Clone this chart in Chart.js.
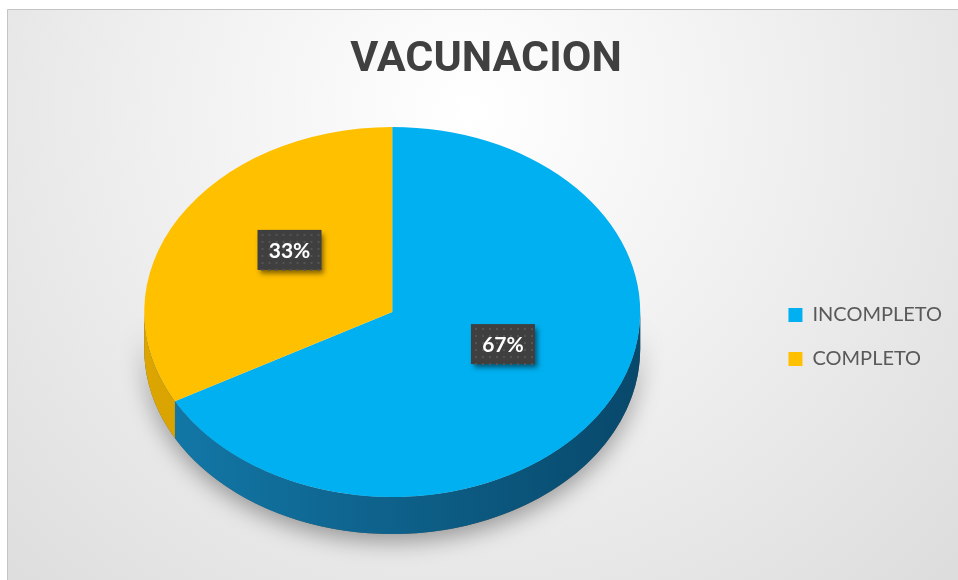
<!DOCTYPE html>
<html>
<head>
<meta charset="utf-8">
<script src="https://cdn.jsdelivr.net/npm/chart.js@4.4.1/dist/chart.umd.min.js"></script>
<style>
  html, body { margin: 0; padding: 0; background: #fff; }
  #wrap { width: 958px; height: 580px; }
</style>
</head>
<body>
<div id="wrap"><canvas id="canvas"></canvas></div>
<script>
// data
var chartTitle = 'VACUNACION';
var categories = ['INCOMPLETO', 'COMPLETO'];
var shares = [67, 33];

// styling
var topColors = ['#00b0f0', '#ffc000'];
var sideColors = [['#137aaa', '#08486b'], ['#dca500', '#b88a00']];
var TILT = 0.746;   // vertical squash of the 3d pie
var LIFT = 20;      // pie centre moved up from the chart area centre
var DEPTH = 37;     // thickness of the pie side

function pieGeom(chart) {
    var arcs = chart.getDatasetMeta(0).data;
    var a = arcs[0];
    return { cx: a.x, cy: a.y - LIFT, rx: a.outerRadius, ry: a.outerRadius * TILT, ox: a.x, oy: a.y, arcs: arcs };
}

var backdrop = {
    id: 'backdrop',
    beforeDraw: function (chart) {
        var ctx = chart.ctx, w = chart.width, h = chart.height;
        ctx.save();
        ctx.fillStyle = '#ffffff';
        ctx.fillRect(0, 0, w, h);
        var g = ctx.createRadialGradient(470, 110, 0, 470, 110, 720);
        g.addColorStop(0, '#ffffff');
        g.addColorStop(0.45, '#efefef');
        g.addColorStop(1, '#dadada');
        ctx.fillStyle = g;
        ctx.fillRect(7, 9, w - 7, h - 9);
        ctx.strokeStyle = '#c4c4c4';
        ctx.lineWidth = 1;
        ctx.beginPath();
        ctx.moveTo(7.5, h);
        ctx.lineTo(7.5, 9.5);
        ctx.lineTo(w, 9.5);
        ctx.stroke();
        ctx.restore();
    }
};

var pie3d = {
    id: 'pie3d',
    beforeDatasetsDraw: function (chart) {
        var ctx = chart.ctx, p = pieGeom(chart);
        // soft shadow under the pie
        ctx.save();
        ctx.shadowColor = 'rgba(0,0,0,0.35)';
        ctx.shadowBlur = 22;
        ctx.shadowOffsetY = 8;
        ctx.fillStyle = '#555';
        ctx.beginPath();
        ctx.ellipse(p.cx, p.cy + DEPTH, p.rx, p.ry, 0, 0, Math.PI);
        ctx.ellipse(p.cx, p.cy, p.rx, p.ry, 0, Math.PI, 0, true);
        ctx.closePath();
        ctx.fill();
        ctx.restore();
        // side walls of each slice (front half only)
        p.arcs.forEach(function (arc, i) {
            var a = Math.max(arc.startAngle, 0), b = Math.min(arc.endAngle, Math.PI);
            var a2 = Math.max(arc.startAngle - 2 * Math.PI, 0), b2 = Math.min(arc.endAngle - 2 * Math.PI, Math.PI);
            [[a, b], [a2, b2]].forEach(function (r) {
                if (r[1] <= r[0]) return;
                var g = ctx.createLinearGradient(p.cx - p.rx, 0, p.cx + p.rx, 0);
                g.addColorStop(0, sideColors[i][0]);
                g.addColorStop(1, sideColors[i][1]);
                ctx.save();
                ctx.fillStyle = g;
                ctx.beginPath();
                ctx.ellipse(p.cx, p.cy, p.rx, p.ry, 0, r[0], r[1]);
                ctx.ellipse(p.cx, p.cy + DEPTH, p.rx, p.ry, 0, r[1], r[0], true);
                ctx.closePath();
                ctx.fill();
                ctx.restore();
            });
        });
        // squash the library's circle into the top face ellipse
        ctx.save();
        ctx.translate(p.cx, p.cy);
        ctx.scale(1, TILT);
        ctx.translate(-p.ox, -p.oy);
    },
    afterDatasetsDraw: function (chart) {
        var ctx = chart.ctx;
        ctx.restore();
        var p = pieGeom(chart);
        var total = shares.reduce(function (s, v) { return s + v; }, 0);
        ctx.save();
        ctx.font = 'bold 21px Lato';
        ctx.textAlign = 'center';
        ctx.textBaseline = 'middle';
        p.arcs.forEach(function (arc, i) {
            var m = (arc.startAngle + arc.endAngle) / 2;
            var x = p.cx + p.rx * 0.5 * Math.cos(m) + 4;
            var y = p.cy + p.ry * 0.5 * Math.sin(m) - 15;
            var txt = Math.round(shares[i] / total * 100) + '%';
            var bw = 64, bh = 40;
            ctx.save();
            ctx.shadowColor = 'rgba(0,0,0,0.5)';
            ctx.shadowBlur = 5;
            ctx.shadowOffsetX = 3;
            ctx.shadowOffsetY = 4;
            ctx.fillStyle = '#3f3f3f';
            ctx.fillRect(x - bw / 2, y - bh / 2, bw, bh);
            ctx.restore();
            // dotted texture
            ctx.fillStyle = '#555555';
            for (var dx = 4; dx < bw; dx += 7) {
                for (var dy = 4; dy < bh; dy += 7) {
                    ctx.fillRect(x - bw / 2 + dx, y - bh / 2 + dy, 2, 2);
                }
            }
            ctx.fillStyle = '#ffffff';
            ctx.fillText(txt, x, y + 1);
        });
        ctx.restore();
    }
};

var ctx = document.getElementById('canvas').getContext('2d');
window.Vacunacion = new Chart(ctx, {
    type: 'pie',
    data: {
        labels: categories,
        datasets: [{
            data: shares,
            backgroundColor: topColors,
            borderWidth: 0
        }]
    },
    plugins: [backdrop, pie3d],
    options: {
        responsive: true,
        maintainAspectRatio: false,
        animation: false,
        events: [],
        layout: { padding: { left: 20, right: 6, top: 0, bottom: 0 } },
        plugins: {
            title: {
                display: true,
                text: chartTitle,
                color: '#404040',
                font: { family: 'Roboto', size: 43, weight: 'bold', lineHeight: 48 / 43 },
                padding: { top: 36, bottom: 0 }
            },
            legend: {
                position: 'right',
                fullSize: false,
                title: {
                    display: true,
                    text: ' ',
                    font: { size: 10, lineHeight: 1 },
                    padding: 0
                },
                labels: {
                    color: '#595959',
                    font: { family: 'Lato', size: 20 },
                    boxWidth: 14,
                    boxHeight: 14,
                    padding: 24
                }
            },
            tooltip: { enabled: false }
        }
    }
});
</script>
</body>
</html>
